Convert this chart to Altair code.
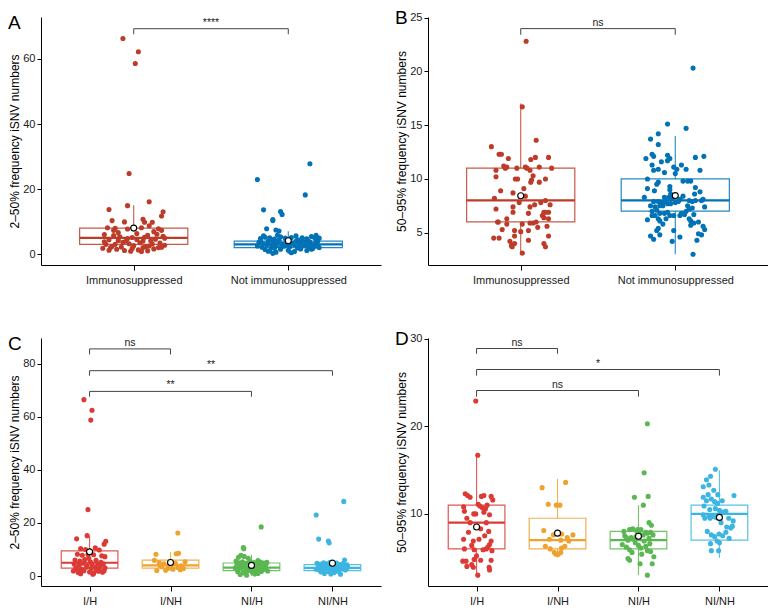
import json
import altair as alt
import pandas as pd

FONT = "Liberation Sans"

# ---------------- categories & colours ----------------
AB_GROUPS = ["Immunosuppressed", "Not immunosuppressed"]
AB_COLORS = ["#BC3C29", "#0072B5"]
CD_GROUPS = ["I/H", "I/NH", "NI/H", "NI/NH"]
CD_COLORS = ["#DC3A35", "#EFA22F", "#5BB751", "#3CB5E1"]

# ---------------- points: (jitter offset in category units, value) ----------------
A_IMM = [(-0.07, 66.3), (0.03, 62.2), (0.01, 58.6), (-0.03, 24.8), (0.10, 16.1), (-0.16, 13.7),
         (-0.04, 14.9), (0.19, 13.0), (0.18, 11.7), (-0.14, 10.3), (-0.06, 9.9), (0.06, 10.7),
         (0.07, 9.8), (0.12, 9.8), (0.10, 8.7), (-0.17, 8.1), (-0.12, 7.9), (-0.13, 7.3), (-0.04, 7.7),
         (0.05, 8.1), (0.16, 7.8), (0.18, 7.3), (0.13, 6.9), (-0.19, 6.0), (-0.13, 5.7), (-0.09, 5.3),
         (-0.04, 4.8), (-0.01, 5.1), (0.09, 5.8), (0.19, 5.5), (-0.16, 4.4), (-0.10, 4.2), (0.02, 4.5),
         (0.06, 4.0), (0.14, 4.6), (0.20, 4.9), (-0.18, 3.0), (-0.14, 2.4), (-0.08, 2.2), (-0.03, 3.2),
         (0.00, 2.6), (0.04, 3.5), (0.08, 2.3), (0.12, 3.1), (0.16, 2.0), (0.20, 2.7), (-0.20, 1.8),
         (-0.11, 1.5), (-0.06, 1.1), (0.03, 1.3), (0.09, 1.0), (0.13, 1.6), (-0.15, 2.0), (-0.01, 1.8),
         (0.06, 2.0), (0.18, 2.1), (-0.07, 3.6), (0.11, 4.1), (-0.19, 3.8), (0.02, 6.3), (-0.10, 6.6),
         (0.15, 6.1), (0.07, 5.2), (-0.05, 4.0), (0.17, 3.4), (-0.12, 3.0), (0.05, 0.8), (-0.02, 0.9),
         (0.10, 2.5), (-0.16, 1.2)]
A_NON = [(0.14, 27.8), (-0.20, 22.9), (0.11, 18.2), (-0.16, 13.6), (-0.05, 13.1), (-0.04, 12.2),
         (-0.10, 10.6), (-0.10, 10.3), (-0.14, 7.8), (-0.08, 7.4), (-0.06, 7.1),
         (-0.18, 4.8), (-0.15, 5.2), (-0.12, 5.0), (-0.09, 4.6), (-0.05, 5.3), (-0.02, 4.9), (0.02, 5.1),
         (0.06, 4.4), (0.09, 5.0), (0.12, 4.7), (0.15, 5.4), (0.18, 5.8), (0.20, 4.9), (-0.19, 3.6),
         (-0.16, 3.2), (-0.13, 3.9), (-0.10, 3.4), (-0.07, 3.7), (-0.04, 3.1), (-0.01, 3.8), (0.03, 3.3),
         (0.05, 3.9), (0.08, 3.5), (0.11, 3.0), (0.14, 3.7), (0.17, 3.2), (0.19, 3.9), (-0.20, 2.5),
         (-0.17, 2.1), (-0.14, 2.8), (-0.11, 2.2), (-0.08, 2.6), (-0.05, 2.0), (-0.02, 2.7), (0.01, 2.3),
         (0.04, 2.9), (0.07, 2.1), (0.10, 2.6), (0.13, 2.2), (0.16, 2.8), (0.19, 2.4), (-0.15, 1.4),
         (-0.12, 1.0), (-0.08, 0.6), (-0.05, 1.5), (0.00, 1.2), (0.04, 0.8), (0.08, 1.6), (0.12, 1.1),
         (0.16, 1.8), (-0.10, 0.2), (0.02, 0.4), (-0.13, 0.9), (-0.18, 4.1), (-0.06, 4.3), (0.00, 4.5),
         (0.07, 4.2), (0.13, 4.0), (0.18, 4.4), (-0.11, 4.4), (0.10, 3.6), (-0.03, 2.4), (0.06, 1.9),
         (-0.09, 1.8), (0.15, 1.5), (-0.16, 5.6), (0.05, 5.6), (0.14, 2.5), (-0.01, 3.0), (0.09, 4.8),
         (-0.07, 5.8), (0.17, 5.1), (0.20, 2.0)]

B_IMM = [(0.035, 22.8), (0.01, 16.7), (0.10, 13.6), (-0.19, 13.0), (-0.14, 12.3), (-0.125, 12.3),
         (-0.08, 11.9), (-0.11, 11.2), (-0.09, 11.1), (-0.10, 11.0), (0.065, 11.8), (0.095, 12.0),
         (0.18, 12.0), (0.03, 11.1), (0.04, 11.0), (0.06, 10.8), (-0.025, 11.0), (0.12, 11.1),
         (0.20, 11.0), (-0.16, 10.8), (-0.16, 10.2), (0.08, 10.3), (0.07, 9.9), (-0.035, 10.0),
         (-0.02, 10.0), (0.065, 9.7), (0.12, 9.7), (0.16, 10.0), (0.02, 9.1), (-0.13, 8.9), (-0.05, 8.7),
         (-0.17, 8.2), (-0.01, 7.8), (0.16, 8.0), (0.19, 7.6), (-0.05, 7.4), (0.09, 7.6), (0.06, 7.4),
         (-0.16, 7.2), (-0.05, 6.9), (0.05, 6.8), (0.15, 6.9), (0.16, 6.9), (0.18, 6.9), (0.14, 6.6),
         (0.15, 6.4), (0.18, 6.3), (-0.15, 6.0), (-0.145, 6.0), (-0.09, 5.8), (0.06, 5.9), (0.08, 5.9),
         (0.10, 6.0), (0.01, 5.8), (0.17, 5.6), (0.05, 5.2), (-0.04, 5.2), (-0.04, 4.7), (0.00, 5.1),
         (0.18, 4.7), (-0.175, 4.5), (-0.14, 4.5), (-0.07, 4.2), (-0.04, 4.0), (-0.06, 3.8), (-0.055, 3.7),
         (0.05, 4.3), (0.15, 4.0), (0.16, 3.7), (0.01, 3.1), (-0.12, 5.3), (0.13, 7.8), (-0.09, 6.3),
         (0.03, 8.4), (0.11, 5.5)]
B_NON = [(0.115, 20.3), (0.115, 3.0), (-0.05, 15.1), (0.07, 14.7), (-0.11, 14.2), (-0.16, 13.7),
         (-0.11, 13.2), (-0.15, 12.3), (-0.14, 12.1), (-0.19, 11.9), (-0.05, 12.2), (-0.035, 11.9),
         (-0.05, 11.7), (0.13, 12.0), (0.185, 12.1), (-0.09, 11.6), (-0.15, 11.3), (-0.11, 10.9),
         (-0.14, 10.8), (0.04, 11.3), (-0.01, 11.1), (0.01, 10.9), (0.07, 10.9), (-0.07, 10.6),
         (0.00, 10.5), (0.16, 10.8), (-0.18, 10.0), (-0.11, 9.7), (0.05, 9.8), (0.08, 9.8), (0.10, 9.8),
         (0.13, 9.2), (-0.18, 9.1), (-0.035, 9.3), (-0.035, 9.0), (-0.135, 8.9), (0.16, 8.8),
         (0.125, 8.6), (-0.07, 8.3), (-0.06, 8.2), (-0.04, 8.3), (-0.02, 8.2), (0.03, 8.1), (0.09, 8.0),
         (0.11, 7.9), (0.13, 8.0), (0.17, 8.0), (0.18, 8.1), (-0.20, 8.3), (-0.14, 7.9), (-0.11, 7.9),
         (-0.09, 7.8), (-0.07, 7.9), (-0.16, 7.5), (-0.13, 7.4), (-0.10, 7.5), (-0.08, 7.5), (-0.05, 7.7),
         (-0.03, 7.7), (0.00, 7.8), (0.02, 7.9), (0.19, 7.4), (0.08, 7.5), (0.09, 7.2), (-0.15, 7.0),
         (-0.12, 7.1), (-0.10, 6.8), (-0.07, 6.8), (-0.05, 6.9), (-0.035, 6.6), (0.07, 7.0), (0.12, 6.7),
         (-0.15, 6.6), (-0.13, 6.6), (0.03, 6.6), (0.04, 6.8), (0.06, 6.7), (-0.11, 6.3), (-0.10, 6.1),
         (-0.06, 6.3), (-0.01, 6.6), (0.09, 6.3), (0.10, 6.1), (0.12, 5.9), (0.15, 6.0), (-0.12, 5.2),
         (-0.11, 5.4), (-0.10, 4.8), (-0.01, 5.2), (0.03, 4.6), (0.17, 4.8), (0.19, 5.3), (-0.16, 4.7),
         (-0.14, 4.4), (-0.02, 4.2), (0.10, 5.7), (0.14, 4.3), (0.15, 4.9), (-0.08, 5.8), (0.05, 8.4),
         (-0.18, 6.2), (0.18, 5.6), (-0.03, 8.6), (0.11, 7.3), (-0.12, 9.5)]

C_IH = [(-0.07, 66.4), (0.03, 62.4), (0.015, 58.7), (-0.02, 25.0), (-0.16, 14.0), (-0.03, 15.2),
        (0.20, 13.1), (0.18, 12.0), (-0.11, 10.3), (-0.05, 10.0), (0.07, 10.6), (0.12, 9.8),
        (-0.15, 8.2), (-0.09, 7.8), (-0.02, 8.1), (0.05, 8.0), (0.15, 7.6), (0.19, 7.3), (-0.18, 6.0),
        (-0.12, 5.6), (-0.06, 6.2), (0.01, 5.4), (0.08, 5.9), (0.14, 5.2), (-0.19, 4.5), (-0.13, 4.1),
        (-0.08, 4.8), (-0.03, 3.9), (0.03, 4.4), (0.10, 4.0), (0.17, 4.6), (-0.17, 3.0), (-0.10, 2.6),
        (-0.04, 3.3), (0.02, 2.8), (0.07, 3.4), (0.12, 2.5), (0.19, 3.1), (-0.20, 1.9), (-0.14, 1.3),
        (-0.07, 2.0), (0.00, 1.5), (0.05, 1.0), (0.11, 1.8), (0.16, 1.4), (-0.11, 0.9), (0.08, 2.2),
        (-0.01, 6.7), (0.13, 3.7), (-0.15, 2.3), (0.04, 0.7), (0.18, 2.0)]
C_INH = [(0.09, 16.2), (-0.18, 8.2), (0.07, 8.4), (0.10, 8.6), (-0.20, 5.9), (-0.14, 5.1), (-0.08, 4.6),
         (-0.01, 5.0), (0.06, 4.8), (0.18, 5.4), (0.13, 3.9), (-0.11, 3.5), (-0.03, 2.9), (0.03, 2.6),
         (0.12, 2.4), (-0.17, 2.1), (0.00, 3.7), (0.16, 2.8), (-0.06, 2.2), (0.09, 3.2), (-0.13, 4.0)]
C_NIH = [(0.12, 18.5), (-0.10, 10.7), (-0.095, 10.3), (-0.13, 7.8), (-0.09, 7.4), (-0.16, 7.1),
         (-0.04, 6.7), (-0.19, 5.6), (-0.15, 5.0), (-0.11, 5.4), (-0.06, 4.8), (-0.02, 5.5), (0.03, 5.1),
         (0.07, 4.6), (0.11, 5.3), (0.15, 4.9), (0.19, 5.2), (-0.18, 4.1), (-0.13, 3.7), (-0.08, 4.3),
         (-0.03, 3.6), (0.02, 4.0), (0.06, 3.5), (0.10, 4.2), (0.14, 3.8), (0.18, 4.4), (-0.20, 3.0),
         (-0.16, 2.5), (-0.12, 3.2), (-0.07, 2.7), (0.00, 3.1), (0.05, 2.4), (0.09, 2.9), (0.13, 2.2),
         (0.17, 3.0), (-0.17, 1.6), (-0.10, 1.2), (-0.05, 1.9), (0.01, 1.4), (0.08, 1.0), (0.12, 1.7),
         (0.20, 1.9), (-0.14, 0.6), (-0.06, 0.3), (0.04, 0.8), (-0.01, 2.2), (0.16, 2.6), (-0.09, 4.7),
         (0.08, 5.8)]
C_NINH = [(0.14, 28.1), (-0.20, 23.0), (-0.17, 13.9), (-0.05, 13.2), (-0.04, 12.5), (0.15, 6.0),
          (-0.19, 4.8), (-0.15, 4.4), (-0.11, 5.0), (-0.07, 4.6), (-0.03, 5.2), (0.01, 4.5), (0.05, 4.9),
          (0.09, 4.3), (0.13, 4.7), (0.18, 4.2), (-0.17, 3.6), (-0.13, 3.2), (-0.09, 3.8), (-0.05, 3.3),
          (-0.01, 3.9), (0.03, 3.0), (0.07, 3.6), (0.11, 3.1), (0.15, 3.7), (0.19, 3.3), (-0.20, 2.6),
          (-0.16, 2.2), (-0.12, 2.8), (-0.08, 2.3), (-0.04, 2.9), (0.00, 2.0), (0.04, 2.6), (0.08, 2.1),
          (0.12, 2.7), (0.16, 2.3), (-0.14, 1.5), (-0.10, 1.0), (-0.06, 1.7), (-0.02, 0.8), (0.02, 1.3),
          (0.06, 1.8), (0.10, 0.7), (-0.12, 4.1), (0.00, 5.4), (0.17, 2.8)]

D_IH = [(-0.01, 22.9), (0.015, 16.7), (-0.14, 12.3), (-0.11, 12.1), (-0.08, 11.9), (0.06, 12.0),
        (0.09, 12.1), (0.18, 12.0), (0.20, 11.6), (-0.16, 10.8), (-0.15, 10.3), (0.02, 11.1),
        (0.04, 10.9), (0.07, 10.7), (0.13, 11.0), (0.11, 10.6), (-0.035, 10.0), (-0.01, 10.0),
        (0.16, 9.9), (0.09, 10.2), (0.15, 8.0), (-0.10, 7.9), (0.10, 7.5), (-0.16, 7.1), (-0.04, 6.9),
        (0.18, 6.9), (0.16, 6.5), (0.14, 6.2), (-0.15, 6.0), (-0.03, 5.9), (0.08, 5.9), (0.12, 6.0),
        (0.19, 5.8), (-0.17, 4.6), (-0.13, 4.6), (-0.03, 4.8), (-0.06, 4.2), (-0.04, 3.9), (0.05, 4.7),
        (0.18, 4.7), (0.155, 3.9), (0.16, 3.6), (0.015, 3.0), (-0.12, 4.0), (0.00, 5.2), (-0.08, 9.0),
        (0.05, 8.3), (-0.12, 9.5), (0.12, 9.0), (-0.06, 6.4), (0.03, 7.1)]
D_INH = [(-0.19, 13.0), (0.10, 13.6), (-0.115, 11.1), (-0.015, 11.0), (0.03, 11.0), (-0.17, 8.1),
         (-0.05, 7.6), (0.05, 7.7), (0.19, 7.6), (-0.10, 7.1), (0.04, 7.0), (0.14, 6.9), (-0.15, 6.3),
         (-0.09, 6.0), (0.05, 6.1), (0.09, 6.3), (-0.04, 5.6), (0.01, 5.4), (0.04, 5.6), (-0.02, 5.4),
         (0.12, 7.3)]
D_NIH = [(0.11, 20.3), (0.07, 14.7), (-0.05, 11.9), (0.12, 12.0), (0.06, 11.0), (0.13, 9.0), (0.16, 8.7),
         (-0.11, 8.2), (-0.07, 8.3), (-0.01, 8.2), (0.03, 8.2), (0.09, 7.9), (0.15, 7.9), (-0.17, 7.5),
         (-0.15, 7.3), (-0.09, 7.3), (-0.03, 7.4), (0.01, 7.7), (0.06, 7.6), (0.11, 7.8), (0.18, 7.6),
         (-0.13, 7.0), (-0.06, 7.1), (0.07, 6.9), (0.14, 6.6), (-0.15, 6.2), (-0.11, 5.9), (0.03, 6.1),
         (0.11, 5.8), (0.15, 5.7), (-0.20, 6.5), (-0.13, 4.9), (-0.11, 4.7), (0.02, 4.3), (0.17, 4.3),
         (0.19, 5.1), (0.11, 3.0), (-0.04, 6.7), (0.00, 6.4), (-0.08, 5.6), (0.04, 5.4), (-0.02, 8.0),
         (0.09, 6.3), (-0.18, 8.0), (0.13, 7.2)]
D_NINH = [(-0.05, 15.1), (-0.11, 14.3), (-0.16, 13.9), (-0.20, 13.1), (-0.13, 13.3), (-0.07, 12.7),
          (-0.14, 12.2), (-0.02, 12.2), (0.18, 12.1), (-0.20, 11.9), (-0.16, 11.5), (-0.10, 11.7),
          (-0.06, 11.4), (-0.025, 11.2), (0.035, 11.5), (-0.19, 10.9), (-0.12, 10.5), (-0.05, 10.6),
          (0.00, 10.4), (0.05, 10.2), (0.08, 10.3), (-0.20, 9.9), (-0.13, 9.8), (-0.09, 9.7), (-0.04, 9.6),
          (-0.18, 9.5), (-0.115, 9.5), (0.115, 9.5), (0.09, 8.5), (0.14, 8.4), (0.16, 8.6), (-0.10, 7.6),
          (-0.06, 7.4), (-0.005, 7.7), (0.04, 7.5), (0.08, 7.9), (-0.03, 6.9), (0.00, 6.7), (-0.11, 6.6),
          (-0.10, 5.8), (-0.01, 5.8), (0.12, 7.2), (0.17, 9.2), (-0.15, 8.0), (0.02, 9.0)]

# ---------------- box-plot summaries: low whisker, Q1, median, Q3, high whisker, mean ----------------
A_STATS = {"lo": [1, 0], "q1": [3, 2], "med": [5, 3], "q3": [8, 4], "hi": [15, 7], "mean": [8.0, 4.1]}
B_STATS = {"lo": [3, 3], "q1": [6, 7], "med": [8, 8], "q3": [11, 10], "hi": [17, 14], "mean": [8.43, 8.45]}
C_STATS = {"lo": [1, 2, 0, 1], "q1": [3, 3, 2, 2], "med": [5, 4, 3.2, 3.1], "q3": [9.5, 6, 4.9, 4.3],
           "hi": [15, 9, 8, 6], "mean": [9.1, 5.1, 4.0, 4.8]}
D_STATS = {"lo": [3, 5, 3, 5], "q1": [6, 6, 6, 7], "med": [9, 7, 7, 10], "q3": [11, 9.5, 8, 11],
           "hi": [17, 14, 11, 15], "mean": [8.5, 7.8, 7.45, 9.6]}

# ---------------- significance brackets: from, to, bar height, tip end, label ----------------
A_BRK = {"from": [1], "to": [2], "y": [69.3], "tip": [67.6], "label": ["****"]}
B_BRK = {"from": [1], "to": [2], "y": [23.97], "tip": [23.4], "label": ["ns"]}
C_BRK = {"from": [1, 1, 1], "to": [2, 4, 3], "y": [85.5, 77.3, 69.5], "tip": [83.4, 75.4, 67.5],
         "label": ["ns", "**", "**"]}
D_BRK = {"from": [1, 1, 1], "to": [2, 4, 3], "y": [28.9, 26.5, 24.1], "tip": [28.3, 25.8, 23.4],
         "label": ["ns", "*", "ns"]}

Y_TITLE_LOW = "2–50% frequency iSNV numbers"
Y_TITLE_HIGH = "50–95% frequency iSNV numbers"

BOX_HALF = 0.35
PW, PH = 340, 248

ALL_GROUPS = AB_GROUPS + CD_GROUPS
ALL_COLORS = AB_COLORS + CD_COLORS


def panel(letter, groups, pts, stats, brk, ydomain, yticks, ytitle):
    n = len(groups)
    prow = []
    for gi, g in enumerate(groups):
        for j, v in pts[gi]:
            prow.append({"grp": g, "x": gi + 1 + j, "v": v})
    pdf = pd.DataFrame(prow)
    bdf = pd.DataFrame({"grp": groups, "x": list(range(1, n + 1)), **stats})
    bdf["xl"] = bdf["x"] - BOX_HALF
    bdf["xr"] = bdf["x"] + BOX_HALF

    seg = []
    lab = []
    for a, b, y, t, l in zip(brk["from"], brk["to"], brk["y"], brk["tip"], brk["label"]):
        seg.append({"x": a, "x2": b, "y": y, "y2": y})
        seg.append({"x": a, "x2": a, "y": y, "y2": t})
        seg.append({"x": b, "x2": b, "y": y, "y2": t})
        lab.append({"x": (a + b) / 2, "y": y, "label": l})
    sdf = pd.DataFrame(seg)
    ldf = pd.DataFrame(lab)

    xs = alt.Scale(domain=[0.4, n + 0.6], nice=False, zero=False)
    ys = alt.Scale(domain=ydomain, nice=False, zero=False)
    label_arr = json.dumps([""] + groups)
    xaxis = alt.Axis(values=list(range(1, n + 1)), labelExpr=f"{label_arr}[datum.value]",
                     tickSize=5, labelPadding=4, labelFontSize=11, labelAngle=0)
    yaxis = alt.Axis(values=yticks, tickSize=4, labelPadding=2, labelFontSize=11,
                     titleFontSize=12, titlePadding=2, minExtent=18, maxExtent=18)

    def X(f):
        return alt.X(f, type="quantitative", scale=xs, axis=xaxis, title=None)

    def Y(f):
        return alt.Y(f, type="quantitative", scale=ys, axis=yaxis, title=ytitle)

    cs = alt.Scale(domain=ALL_GROUPS, range=ALL_COLORS)
    stroke = alt.Stroke("grp:N", scale=cs, legend=None)

    base = alt.Chart(bdf)
    whisk = base.mark_rule(strokeWidth=1.1, strokeOpacity=0.85).encode(
        x=X("x"), y=Y("lo"), y2="hi", stroke=stroke)
    box = base.mark_rect(fill="white", strokeWidth=1.2, strokeOpacity=0.85).encode(
        x=X("xl"), x2="xr", y=Y("q1"), y2="q3", stroke=stroke)
    med = base.mark_rule(strokeWidth=2.2).encode(
        x=X("xl"), x2="xr", y=Y("med"), stroke=stroke)
    dots = alt.Chart(pdf).mark_circle(size=26, opacity=1).encode(
        x=X("x"), y=Y("v"), color=alt.Color("grp:N", scale=cs, legend=None))
    mean = base.mark_point(shape="circle", filled=True, fill="white", stroke="black",
                           strokeWidth=1.1, size=36, opacity=1).encode(x=X("x"), y=Y("mean"))
    brules = alt.Chart(sdf).mark_rule(color="#444444", strokeWidth=1).encode(
        x=X("x"), x2="x2", y=Y("y"), y2="y2")
    btext = alt.Chart(ldf).mark_text(baseline="alphabetic", dy=-3, fontSize=10.5, font=FONT,
                                     color="#222222").encode(x=X("x"), y=Y("y"), text="label:N")

    return alt.layer(whisk, box, med, dots, mean, brules, btext).properties(
        width=PW, height=PH,
        title=alt.TitleParams(letter, anchor="start", frame="bounds", fontSize=19,
                              fontWeight="normal", font=FONT, color="black",
                              offset=-8, dy=8))


pA = panel("A", AB_GROUPS, [A_IMM, A_NON], A_STATS, A_BRK, [-3.35, 72.9], [0, 20, 40, 60], Y_TITLE_LOW)
pB = panel("B", AB_GROUPS, [B_IMM, B_NON], B_STATS, B_BRK, [2.0, 25.05], [5, 10, 15, 20, 25], Y_TITLE_HIGH)
pC = panel("C", CD_GROUPS, [C_IH, C_INH, C_NIH, C_NINH], C_STATS, C_BRK, [-3.75, 89.6], [0, 20, 40, 60, 80], Y_TITLE_LOW)
pD = panel("D", CD_GROUPS, [D_IH, D_INH, D_NIH, D_NINH], D_STATS, D_BRK, [1.76, 30.1], [10, 20, 30], Y_TITLE_HIGH)

chart = alt.vconcat(
    alt.hconcat(pA, pB, spacing=14),
    alt.hconcat(pC, pD, spacing=14),
    spacing=44,
).properties(padding={"left": 0, "top": 0, "right": 0, "bottom": 0}).configure_view(
    stroke=None
).configure_axis(
    grid=False, domainColor="black", tickColor="black", domainWidth=1, tickWidth=1,
    labelColor="#1a1a1a", titleColor="black", labelFont=FONT, titleFont=FONT,
    titleFontWeight="normal"
)

chart.save("out.html", embed_options={"renderer": "svg", "actions": False})
